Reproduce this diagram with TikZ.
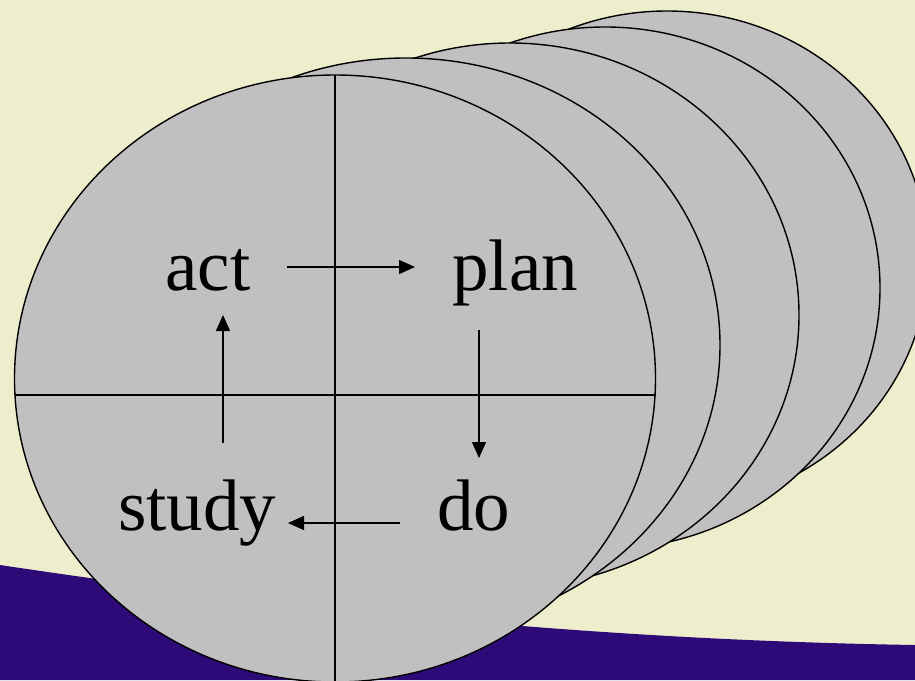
\documentclass[tikz,border=0pt]{standalone}
\usepackage{fontspec}
\setmainfont{Liberation Serif}
\usetikzlibrary{arrows.meta}
\definecolor{cream}{RGB}{238,238,204}
\definecolor{bandcol}{RGB}{45,10,120}
\definecolor{diskcol}{RGB}{192,192,192}
\begin{document}
\begin{tikzpicture}[x=1pt,y=-1pt,
  disc/.style={fill=diskcol,draw=black,line width=1.4pt},
  divider/.style={draw=black,line width=1.4pt},
  word/.style={font=\fontsize{73}{80}\selectfont,inner sep=0pt,anchor=base west},
  arr/.style={draw=black,line width=1.4pt,-{Triangle[length=16pt,width=14pt]}}]
\useasboundingbox (0,0) rectangle (915,680);
\fill[cream] (0,0) rectangle (915,680);
\fill[bandcol] (0,565) .. controls (300,610) and (600,640) .. (915,645) -- (915,680) -- (0,680) -- cycle;
\begin{scope}
\clip (0,0) rectangle (915,680);
\draw[disc] (667,259) ellipse [x radius=261pt, y radius=248pt];
\draw[disc] (605,288) ellipse [x radius=275pt, y radius=261pt];
\draw[disc] (510,315) ellipse [x radius=289pt, y radius=272pt];
\draw[disc] (406,345) ellipse [x radius=314pt, y radius=287pt];
\draw[disc] (335,378.5) ellipse [x radius=320.5pt, y radius=303.5pt];
\coordinate (vtop) at (335,75);
\coordinate (vbot) at (335,690);
\coordinate (hleft) at (15,395);
\coordinate (hright) at (655.5,395);
\draw[divider] (vtop) -- (vbot);
\draw[divider] (hleft) -- (hright);
\end{scope}
\node[word] (act) at (165,290) {act};
\node[word] (plan) at (452,290) {plan};
\node[word] (study) at (118,530) {study};
\node[word] (do) at (437,530) {do};
\coordinate (a1) at (287,267);
\coordinate (a2) at (415,267);
\coordinate (b1) at (479,330);
\coordinate (b2) at (479,458);
\coordinate (c1) at (400,523);
\coordinate (c2) at (288,523);
\coordinate (d1) at (223,443);
\coordinate (d2) at (223,315);
\draw[arr] (a1) -- (a2);
\draw[arr] (b1) -- (b2);
\draw[arr] (c1) -- (c2);
\draw[arr] (d1) -- (d2);
\end{tikzpicture}
\end{document}
